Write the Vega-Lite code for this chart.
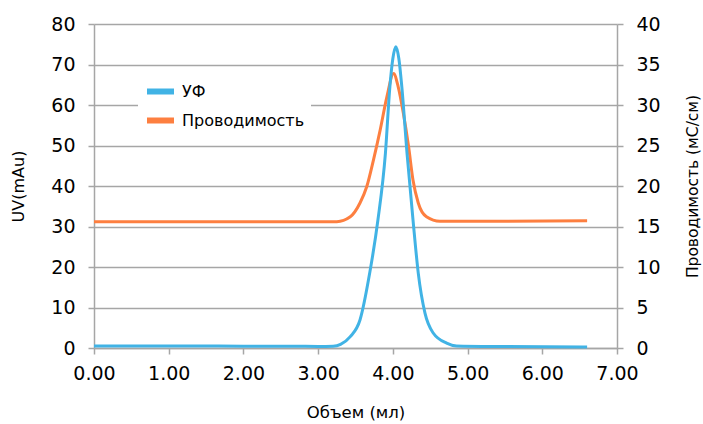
{
  "$schema": "https://vega.github.io/schema/vega-lite/v6.json",
  "autosize": "none",
  "width": 523,
  "height": 324,
  "padding": {"left": 94, "top": 24, "right": 86, "bottom": 76},
  "background": "white",
  "config": {
    "font": "DejaVu Sans",
    "view": {"stroke": null},
    "axis": {"labelFont": "DejaVu Sans", "titleFont": "DejaVu Sans", "labelColor": "#000000", "titleColor": "#000000", "titleFontWeight": "normal", "domainColor": "#a6a6a6", "tickColor": "#a6a6a6", "gridColor": "#a6a6a6", "gridOpacity": 1, "domainWidth": 1.5, "tickWidth": 1.5, "gridWidth": 1.5, "labelFlush": false, "labelOverlap": false}
  },
  "datasets": {
    "uv": [
      {"v": 0.0, "y": 0.5, "s": "УФ"},
      {"v": 1.0, "y": 0.5, "s": "УФ"},
      {"v": 2.0, "y": 0.45, "s": "УФ"},
      {"v": 3.0, "y": 0.4, "s": "УФ"},
      {"v": 3.2, "y": 0.45, "s": "УФ"},
      {"v": 3.3, "y": 0.9, "s": "УФ"},
      {"v": 3.43, "y": 2.8, "s": "УФ"},
      {"v": 3.56, "y": 6.9, "s": "УФ"},
      {"v": 3.69, "y": 18.5, "s": "УФ"},
      {"v": 3.8, "y": 31.6, "s": "УФ"},
      {"v": 3.9, "y": 48, "s": "УФ"},
      {"v": 3.96, "y": 64.5, "s": "УФ"},
      {"v": 4.0, "y": 71.5, "s": "УФ"},
      {"v": 4.04, "y": 74.4, "s": "УФ"},
      {"v": 4.08, "y": 71.5, "s": "УФ"},
      {"v": 4.12, "y": 64.5, "s": "УФ"},
      {"v": 4.19, "y": 48, "s": "УФ"},
      {"v": 4.27, "y": 31.6, "s": "УФ"},
      {"v": 4.34, "y": 18.5, "s": "УФ"},
      {"v": 4.43, "y": 8.6, "s": "УФ"},
      {"v": 4.54, "y": 3.7, "s": "УФ"},
      {"v": 4.72, "y": 1.2, "s": "УФ"},
      {"v": 4.85, "y": 0.5, "s": "УФ"},
      {"v": 5.5, "y": 0.35, "s": "УФ"},
      {"v": 6.6, "y": 0.25, "s": "УФ"}
    ],
    "cond": [
      {"v": 0.0, "c": 15.6, "s": "Проводимость"},
      {"v": 1.5, "c": 15.6, "s": "Проводимость"},
      {"v": 3.25, "c": 15.6, "s": "Проводимость"},
      {"v": 3.43, "c": 16.2, "s": "Проводимость"},
      {"v": 3.56, "c": 17.9, "s": "Проводимость"},
      {"v": 3.65, "c": 19.9, "s": "Проводимость"},
      {"v": 3.74, "c": 23.2, "s": "Проводимость"},
      {"v": 3.83, "c": 26.9, "s": "Проводимость"},
      {"v": 3.92, "c": 31.0, "s": "Проводимость"},
      {"v": 4.01, "c": 33.9, "s": "Проводимость"},
      {"v": 4.07, "c": 32.3, "s": "Проводимость"},
      {"v": 4.14, "c": 29.0, "s": "Проводимость"},
      {"v": 4.21, "c": 24.9, "s": "Проводимость"},
      {"v": 4.27, "c": 20.7, "s": "Проводимость"},
      {"v": 4.34, "c": 17.9, "s": "Проводимость"},
      {"v": 4.45, "c": 16.2, "s": "Проводимость"},
      {"v": 4.63, "c": 15.65, "s": "Проводимость"},
      {"v": 5.5, "c": 15.65, "s": "Проводимость"},
      {"v": 6.6, "c": 15.7, "s": "Проводимость"}
    ]
  },
  "encoding": {
    "x": {"field": "v", "type": "quantitative", "title": "Объем (мл)",
      "scale": {"domain": [0, 7], "nice": false, "zero": false},
      "axis": {"values": [0,1,2,3,4,5,6,7], "format": ".2f", "labelFontSize": 19, "titleFontSize": 16.5, "tickSize": 6, "labelPadding": 10, "titlePadding": 21, "grid": false}}
  },
  "layer": [
    {
      "data": {"name": "cond"},
      "mark": {"type": "line", "interpolate": "monotone", "strokeWidth": 3},
      "encoding": {
        "y": {"field": "c", "type": "quantitative", "title": "Проводимость (мС/см)",
          "scale": {"domain": [0, 40], "nice": false},
          "axis": {"orient": "right", "values": [0,5,10,15,20,25,30,35,40], "labelFontSize": 19, "titleFontSize": 15.5, "tickSize": 6, "labelPadding": 13, "titlePadding": 40, "titleAngle": 270, "grid": false}},
        "color": {"field": "s", "type": "nominal"}
      }
    },
    {
      "data": {"name": "uv"},
      "mark": {"type": "line", "interpolate": "monotone", "strokeWidth": 3},
      "encoding": {
        "y": {"field": "y", "type": "quantitative", "title": "UV(mAu)",
          "scale": {"domain": [0, 80], "nice": false},
          "axis": {"orient": "left", "values": [0,10,20,30,40,50,60,70,80], "labelFontSize": 19, "titleFontSize": 16, "tickSize": 6, "labelPadding": 13, "titlePadding": 24, "grid": true}},
        "color": {"field": "s", "type": "nominal",
          "scale": {"domain": ["УФ", "Проводимость"], "range": ["#41b3e5", "#fd7f40"]},
          "legend": {"title": null, "orient": "none", "legendX": 44, "legendY": 45, "fillColor": "white", "padding": 6, "symbolType": "stroke", "symbolStrokeWidth": 6, "symbolSize": 729, "labelFontSize": 16, "labelFont": "DejaVu Sans", "labelColor": "#000000", "labelOffset": 5, "rowPadding": -4}}
      }
    }
  ],
  "resolve": {"scale": {"y": "independent", "color": "shared"}}
}
